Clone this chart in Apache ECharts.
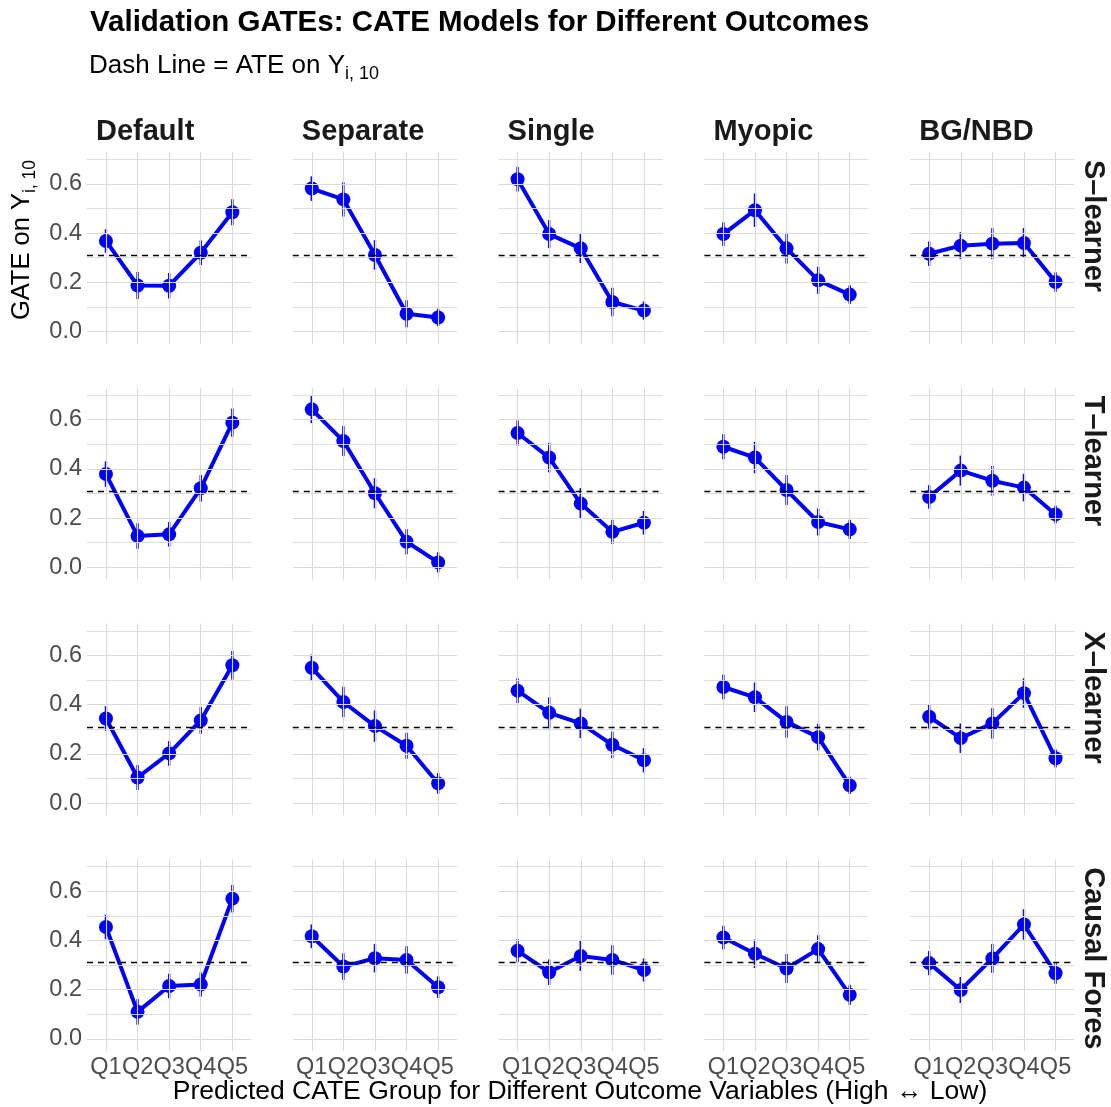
<!DOCTYPE html>
<html>
<head>
<meta charset="utf-8">
<script src="https://cdn.jsdelivr.net/npm/echarts@6/dist/echarts.min.js"></script>
<style>
  html, body { margin: 0; background: #fff; }
  #chart { width: 1111px; height: 1107px; }
</style>
</head>
<body>
<div id="chart"></div>
<script>
const quintiles = ['Q1', 'Q2', 'Q3', 'Q4', 'Q5'];
const outcomes = ['Default', 'Separate', 'Single', 'Myopic', 'BG/NBD'];
const learners = ['S\u2013learner', 'T\u2013learner', 'X\u2013learner', 'Causal Fores'];
const ate = 0.31;

// GATE estimates: one row per outcome (Default, Separate, Single, Myopic, BG/NBD), Q1..Q5
const gateS = [
  [0.368, 0.187, 0.186, 0.320, 0.485],
  [0.581, 0.537, 0.311, 0.072, 0.057],
  [0.619, 0.396, 0.338, 0.120, 0.085],
  [0.396, 0.493, 0.338, 0.208, 0.150],
  [0.316, 0.349, 0.357, 0.360, 0.201]
];
const gateT = [
  [0.379, 0.127, 0.134, 0.321, 0.588],
  [0.642, 0.513, 0.301, 0.104, 0.020],
  [0.546, 0.446, 0.259, 0.144, 0.181],
  [0.490, 0.446, 0.314, 0.184, 0.154],
  [0.286, 0.393, 0.352, 0.324, 0.215]
];
const gateX = [
  [0.344, 0.104, 0.202, 0.336, 0.560],
  [0.550, 0.411, 0.313, 0.233, 0.080],
  [0.457, 0.367, 0.324, 0.237, 0.174],
  [0.472, 0.430, 0.330, 0.268, 0.072],
  [0.351, 0.264, 0.324, 0.447, 0.182]
];
const gateCF = [
  [0.455, 0.110, 0.215, 0.221, 0.570],
  [0.417, 0.294, 0.328, 0.321, 0.210],
  [0.358, 0.271, 0.337, 0.321, 0.280],
  [0.412, 0.346, 0.286, 0.365, 0.179],
  [0.308, 0.199, 0.327, 0.465, 0.267]
];

// half-width of the error bars, same layout
const ciS = [
  [0.048, 0.055, 0.052, 0.050, 0.053],
  [0.050, 0.070, 0.060, 0.055, 0.035],
  [0.050, 0.057, 0.060, 0.058, 0.037],
  [0.048, 0.068, 0.062, 0.055, 0.038],
  [0.050, 0.055, 0.063, 0.061, 0.040]
];
const ciT = [
  [0.052, 0.052, 0.050, 0.054, 0.057],
  [0.056, 0.061, 0.061, 0.051, 0.041],
  [0.051, 0.060, 0.063, 0.049, 0.048],
  [0.051, 0.064, 0.061, 0.055, 0.039],
  [0.048, 0.061, 0.060, 0.056, 0.036]
];
const ciX = [
  [0.050, 0.051, 0.050, 0.054, 0.058],
  [0.054, 0.062, 0.064, 0.053, 0.042],
  [0.050, 0.063, 0.060, 0.054, 0.049],
  [0.050, 0.060, 0.064, 0.054, 0.035],
  [0.048, 0.060, 0.062, 0.060, 0.037]
];
const ciCF = [
  [0.050, 0.052, 0.050, 0.049, 0.056],
  [0.048, 0.054, 0.058, 0.056, 0.044],
  [0.047, 0.052, 0.061, 0.060, 0.047],
  [0.048, 0.058, 0.059, 0.056, 0.041],
  [0.049, 0.053, 0.059, 0.062, 0.043]
];

const gates = [gateS, gateT, gateX, gateCF];
const cis = [ciS, ciT, ciX, ciCF];

const yMajor = [0, 0.2, 0.4, 0.6];
const yMinor = [0.1, 0.3, 0.5, 0.7];

// layout
const FONT = '"Liberation Sans", Arial, Helvetica, sans-serif';
const PANEL_LEFT = 87, PANEL_W = 164.3, COL_STEP = 205.8;
const PANEL_TOP = 151.9, PANEL_H = 191.9, ROW_STEP = 235.8;
const BLUE = '#0000ff';
const GRID_COLOR = '#dadada';

const chart = echarts.init(document.getElementById('chart'));

const xFmt = v => {
  const n = Math.round(v);
  return Math.abs(v - n) < 1e-6 && n >= 1 && n <= 5 ? quintiles[n - 1] : '';
};
const yFmt = v => {
  const k = Math.round(v * 10);
  return Math.abs(v * 10 - k) < 1e-6 && yMajor.some(m => Math.abs(m * 10 - k) < 1e-6) ? (k / 10).toFixed(1) : '';
};

const grids = [], xAxes = [], yAxes = [], series = [];

gates.forEach((rowGates, r) => {
  rowGates.forEach((vals, c) => {
    const idx = r * 5 + c;
    grids.push({
      left: PANEL_LEFT + c * COL_STEP,
      top: PANEL_TOP + r * ROW_STEP,
      width: PANEL_W,
      height: PANEL_H
    });
    xAxes.push({
      gridIndex: idx, type: 'value', min: 0.4, max: 5.6, interval: 0.2,
      axisLine: { show: false }, axisTick: { show: false }, splitLine: { show: false },
      axisLabel: { show: r === 3, formatter: xFmt, color: '#4d4d4d', fontSize: 23.5, fontFamily: FONT, margin: 4 }
    });
    yAxes.push({
      gridIndex: idx, type: 'value', min: -0.05, max: 0.73, interval: 0.05,
      axisLine: { show: false }, axisTick: { show: false }, splitLine: { show: false },
      axisLabel: { show: c === 0, formatter: yFmt, color: '#4d4d4d', fontSize: 23.5, fontFamily: FONT, margin: 5 }
    });

    // panel grid lines
    series.push({
      type: 'line', xAxisIndex: idx, yAxisIndex: idx, data: [], silent: true, z: 1,
      markLine: {
        silent: true, symbol: 'none', label: { show: false },
        lineStyle: { color: GRID_COLOR, width: 1.1, type: 'solid' },
        data: [
          ...quintiles.map((q, i) => ({ xAxis: i + 1 })),
          ...yMajor.map(v => ({ yAxis: v })),
          ...yMinor.map(v => ({ yAxis: v, lineStyle: { color: GRID_COLOR, width: 0.9, type: 'solid' } }))
        ]
      }
    });
    // ATE reference
    series.push({
      type: 'line', xAxisIndex: idx, yAxisIndex: idx, data: [], silent: true, z: 2,
      markLine: {
        silent: true, symbol: 'none', label: { show: false },
        lineStyle: { color: '#000', width: 1.4, type: [6, 5] },
        data: [{ yAxis: ate }]
      }
    });
    // error bars
    const ci = cis[r][c];
    series.push({
      type: 'custom', xAxisIndex: idx, yAxisIndex: idx, z: 3,
      encode: { x: 0, y: [1, 2] },
      data: vals.map((v, i) => [i + 1, v - ci[i], v + ci[i]]),
      renderItem: (params, api) => {
        const p1 = api.coord([api.value(0), api.value(1)]);
        const p2 = api.coord([api.value(0), api.value(2)]);
        return {
          type: 'line',
          shape: { x1: p1[0], y1: p1[1], x2: p2[0], y2: p2[1] },
          style: { stroke: BLUE, lineWidth: 2.4 }
        };
      }
    });
    // GATE line + points
    series.push({
      type: 'line', xAxisIndex: idx, yAxisIndex: idx, z: 4,
      data: vals.map((v, i) => [i + 1, v]),
      symbol: 'circle', symbolSize: 14, showSymbol: true,
      lineStyle: { color: BLUE, width: 4 },
      itemStyle: { color: BLUE }
    });
  });
});

const graphics = [
  {
    type: 'text', x: 90, y: 23,
    style: { text: 'Validation GATEs: CATE Models for Different Outcomes', font: 'bold 29.5px ' + FONT, fill: '#000', verticalAlign: 'middle' }
  },
  {
    type: 'text', x: 89, y: 66,
    style: {
      text: '{m|Dash Line = ATE on Y}{s|i, 10}', verticalAlign: 'middle',
      rich: {
        m: { fontSize: 26, fontFamily: FONT, fill: '#000', lineHeight: 34, verticalAlign: 'middle' },
        s: { fontSize: 18, fontFamily: FONT, fill: '#000', lineHeight: 16, verticalAlign: 'bottom' }
      }
    }
  },
  {
    type: 'text', x: 22, y: 240, rotation: Math.PI / 2,
    style: {
      text: '{m|GATE on Y}{s|i, 10}', align: 'center', verticalAlign: 'middle',
      rich: {
        m: { fontSize: 25.5, fontFamily: FONT, fill: '#000', lineHeight: 34, verticalAlign: 'middle' },
        s: { fontSize: 17.5, fontFamily: FONT, fill: '#000', lineHeight: 16, verticalAlign: 'bottom' }
      }
    }
  },
  {
    type: 'text', x: 580, y: 1092,
    style: { text: 'Predicted CATE Group for Different Outcome Variables (High \u2194 Low)', font: '26.5px ' + FONT, fill: '#000', align: 'center', verticalAlign: 'middle' }
  }
];
outcomes.forEach((name, c) => {
  graphics.push({
    type: 'text', x: PANEL_LEFT + c * COL_STEP + 9, y: 132,
    style: { text: name, font: 'bold 29px ' + FONT, fill: '#1a1a1a', verticalAlign: 'middle' }
  });
});
learners.forEach((name, r) => {
  graphics.push({
    type: 'text', x: 1093, y: PANEL_TOP + r * ROW_STEP + 8, rotation: -Math.PI / 2,
    style: { text: name, font: 'bold 29px ' + FONT, fill: '#1a1a1a', align: 'left', verticalAlign: 'middle' }
  });
});

chart.setOption({
  animation: false,
  backgroundColor: '#fff',
  grid: grids,
  xAxis: xAxes,
  yAxis: yAxes,
  series: series,
  graphic: graphics
});
</script>
</body>
</html>
